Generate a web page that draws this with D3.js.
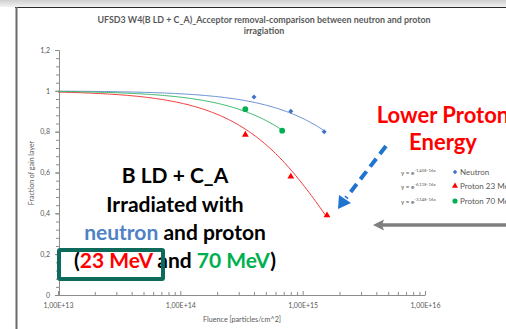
<!DOCTYPE html>
<html><head><meta charset="utf-8">
<script src="https://cdn.jsdelivr.net/npm/d3@7"></script>
<style>html,body{margin:0;padding:0;background:#fff;overflow:hidden}svg{display:block}</style>
</head><body>
<script>
// ---- data ----
const seriesNames = ["Neutron", "Proton 23 MeV", "Proton 70 MeV"];
const neutronFluence = [4.0e14, 8.0e14, 1.5e15];
const neutronFraction = [0.97, 0.90, 0.80];
const proton23Fluence = [3.4e14, 8.0e14, 1.58e15];
const proton23Fraction = [0.785, 0.58, 0.39];
const proton70Fluence = [3.4e14, 6.8e14];
const proton70Fraction = [0.91, 0.805];
// exponential trendline coefficients shown in the legend (y = e^(b x))
const fitRates = [-1.45e-16, -6.11e-16, -3.14e-16];
const fitLabels = ["-1,45E-16x", "-6,11E-16x", "-3,14E-16x"];
const xTickValues = [1e13, 1e14, 1e15, 1e16];
const xTickLabels = ["1,00E+13", "1,00E+14", "1,00E+15", "1,00E+16"];
const yTickValues = [0, 0.2, 0.4, 0.6, 0.8, 1.0, 1.2];
const yTickLabels = ["0", "0,2", "0,4", "0,6", "0,8", "1", "1,2"];
const titleLines = ["UFSD3 W4(B LD + C_A)_Acceptor removal-comparison between neutron and proton", "irragiation"];

const W = 506, H = 329;
const colors = ["#4472C4", "#FF0000", "#00B050"];
const lineColors = ["#6B91D3", "#F23A3A", "#3DBA6B"];
const gray = "#595959";
const font = "Lato, 'Open Sans', sans-serif";

const svg = d3.select("body").append("svg").attr("width", W).attr("height", H);

// frame / background
const defs = svg.append("defs");
const lg = defs.append("linearGradient").attr("id", "topg").attr("x1", 0).attr("y1", 0).attr("x2", 0).attr("y2", 1);
lg.append("stop").attr("offset", 0).attr("stop-color", "#cfcfcf");
lg.append("stop").attr("offset", 1).attr("stop-color", "#f2f2f2");
svg.append("rect").attr("x", 0).attr("y", 0).attr("width", W).attr("height", 7).attr("fill", "url(#topg)");
svg.append("line").attr("x1", 15).attr("x2", W).attr("y1", 7.5).attr("y2", 7.5).attr("stroke", "#2b2b2b").attr("stroke-width", 1);
svg.append("line").attr("x1", 16.5).attr("x2", 16.5).attr("y1", 7).attr("y2", H).attr("stroke", "#6a6a6a").attr("stroke-width", 2);

const x = d3.scaleLog().domain([1e13, 1e16]).range([58, 425]);
const y = d3.scaleLinear().domain([0, 1.2]).range([295, 50]);

// title
svg.append("g").selectAll("text").data(titleLines).join("text")
  .attr("x", 264).attr("y", (d, i) => 23 + i * 11)
  .attr("text-anchor", "middle").attr("font-family", font).attr("font-weight", "bold")
  .attr("font-size", 8.9).attr("fill", gray).text(d => d);

// y axis
const yAxis = svg.append("g").attr("transform", "translate(59,0)")
  .call(d3.axisLeft(y).tickValues(yTickValues).tickFormat((d, i) => yTickLabels[i]).tickSize(4).tickPadding(5));
const yMinor = svg.append("g").attr("transform", "translate(59,0)")
  .call(d3.axisLeft(y).tickValues(d3.range(0, 1.2001, 0.04)).tickFormat("").tickSize(3));
yMinor.select(".domain").remove();

// x axis
const xAxis = svg.append("g").attr("transform", "translate(0,295)")
  .call(d3.axisBottom(x).tickValues(xTickValues).tickFormat((d, i) => xTickLabels[i]).tickSizeInner(-4).tickSizeOuter(0).tickPadding(8));
const minorX = [];
[1e13, 1e14, 1e15].forEach(dec => { for (let k = 2; k <= 9; k++) minorX.push(dec * k); });
const xMinor = svg.append("g").attr("transform", "translate(0,295)")
  .call(d3.axisBottom(x).tickValues(minorX).tickFormat("").tickSize(-3));
xMinor.select(".domain").remove();

[yAxis, yMinor, xAxis, xMinor].forEach(g => {
  g.selectAll("path,line").attr("stroke", "#8c8c8c");
  g.selectAll("text").attr("font-family", font).attr("font-size", 7).attr("fill", gray);
});

// axis titles
svg.append("text").attr("transform", "translate(34,173) rotate(-90)").attr("text-anchor", "middle")
  .attr("font-family", font).attr("font-size", 7).attr("fill", gray).text("Fraction of gain layer");
svg.append("text").attr("x", 242).attr("y", 322).attr("text-anchor", "middle")
  .attr("font-family", font).attr("font-size", 7.2).attr("fill", gray).text("Fluence [particles/cm^2]");

// trendlines
const fluences = [neutronFluence, proton23Fluence, proton70Fluence];
const fractions = [neutronFraction, proton23Fraction, proton70Fraction];
const line = d3.line().x(d => x(d[0])).y(d => y(d[1]));
fitRates.forEach((b, i) => {
  const xmax = d3.max(fluences[i]);
  const pts = d3.range(0, 121).map(k => {
    const f = Math.pow(10, 13 + (Math.log10(xmax) - 13) * k / 120);
    return [f, Math.exp(b * f)];
  });
  svg.append("path").attr("d", line(pts)).attr("fill", "none").attr("stroke", lineColors[i]).attr("stroke-width", 1);
});

// markers
const symTypes = [d3.symbolDiamond2, d3.symbolTriangle, d3.symbolCircle];
const symSizes = [16, 20, 26];
fluences.forEach((fs, i) => {
  svg.append("g").selectAll("path").data(fs.map((f, j) => [f, fractions[i][j]])).join("path")
    .attr("transform", d => `translate(${x(d[0])},${y(d[1])})`)
    .attr("d", d3.symbol().type(symTypes[i]).size(symSizes[i]))
    .attr("fill", colors[i]);
});

// legend
const legRows = [0, 1, 2];
const legY = [172, 186, 201];
legRows.forEach(i => {
  const t = svg.append("text").attr("x", 401).attr("y", legY[i] + 2.5).attr("font-family", font)
    .attr("font-size", 6.3).attr("fill", gray);
  t.append("tspan").text("y = e");
  t.append("tspan").attr("dy", -2.5).attr("font-size", 4.3).text(fitLabels[i]);
  svg.append("path").attr("transform", `translate(455,${legY[i]})`)
    .attr("d", d3.symbol().type(symTypes[i]).size(symSizes[i] * 0.8)).attr("fill", colors[i]);
  svg.append("text").attr("x", 460).attr("y", legY[i] + 3).attr("font-family", font)
    .attr("font-size", 8).attr("fill", gray).text(seriesNames[i]);
});

// annotation: lower proton energy
svg.append("text").attr("x", 443).attr("y", 123).attr("text-anchor", "middle").attr("font-family", font)
  .attr("font-weight", "bold").attr("font-size", 22).attr("fill", "#FF0000").text("Lower Proton");
svg.append("text").attr("x", 443).attr("y", 150).attr("text-anchor", "middle").attr("font-family", font)
  .attr("font-weight", "bold").attr("font-size", 22).attr("fill", "#FF0000").text("Energy");

// blue dashed arrow
svg.append("line").attr("x1", 386).attr("y1", 146).attr("x2", 346).attr("y2", 198)
  .attr("stroke", "#1F74CF").attr("stroke-width", 4).attr("stroke-dasharray", "10,6");
svg.append("path").attr("d", "M338,209 L339,195 L351,203 Z").attr("fill", "#1F74CF");

// gray arrow
svg.append("line").attr("x1", 380).attr("y1", 225).attr("x2", W).attr("y2", 225)
  .attr("stroke", "#7f7f7f").attr("stroke-width", 3.5);
svg.append("path").attr("d", "M373,225 L384,219.5 L382,225 L384,230.5 Z").attr("fill", "#7f7f7f");

// main text block
svg.append("rect").attr("x", 59).attr("y", 250).attr("width", 104).attr("height", 29).attr("fill", "#fff");
const big = [
  [["B LD + C_A", "#000"]],
  [["Irradiated with", "#000"]],
  [["neutron", "#4F81C7"], [" and proton", "#000"]],
  [["(", "#000"], ["23 MeV", "#FF0000"], [" and ", "#000"], ["70 MeV", "#00B050"], [")", "#000"]]
];
const bigY = [183, 212, 240, 268];
big.forEach((parts, i) => {
  const t = svg.append("text").attr("x", 175).attr("y", bigY[i]).attr("text-anchor", "middle")
    .attr("font-family", font).attr("font-weight", "bold").attr("font-size", 21);
  parts.forEach(p => t.append("tspan").attr("fill", p[1]).text(p[0]));
});
svg.append("rect").attr("x", 59).attr("y", 250).attr("width", 104).attr("height", 29)
  .attr("fill", "none").attr("stroke", "#0E6B5B").attr("stroke-width", 4).attr("rx", 1);
</script>
</body></html>
